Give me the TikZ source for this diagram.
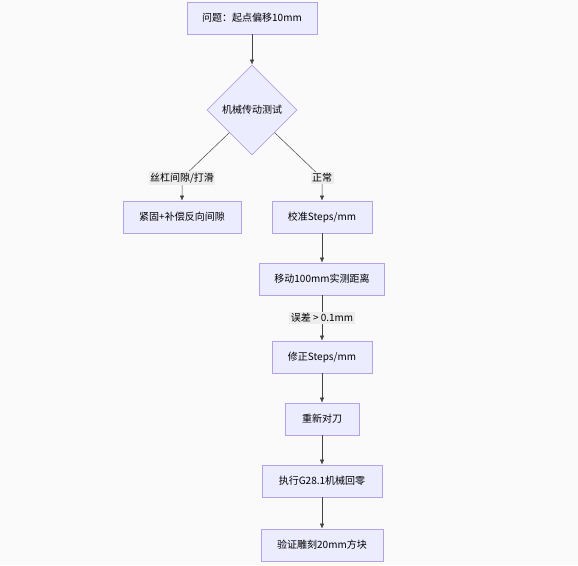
\documentclass[tikz,border=0pt]{standalone}
\usepackage{fontspec}
\setmainfont{Noto Sans CJK SC}
\usetikzlibrary{arrows.meta,positioning,shapes.geometric}
\definecolor{boxfill}{HTML}{ECECFF}
\definecolor{boxline}{HTML}{B4A2E6}
\definecolor{flowline}{HTML}{444444}
\definecolor{lblfill}{HTML}{EDEDED}
\definecolor{pagebg}{HTML}{FAFAFA}

\begin{document}
\begin{tikzpicture}[x=1pt, y=-1pt,
  box/.style={draw=boxline, fill=boxfill, line width=0.8pt, minimum height=32pt, inner sep=0pt, font=\fontsize{10}{12}\selectfont},
  check/.style={diamond, draw=boxline, fill=boxfill, line width=0.8pt, minimum size=90pt, inner sep=0pt, font=\fontsize{10}{12}\selectfont},
  lbl/.style={fill=lblfill, inner sep=1.5pt, font=\fontsize{10}{12}\selectfont},
  flow/.style={-{Latex[length=5pt, width=4.5pt]}, draw=flowline, line width=0.5pt}]
\useasboundingbox[fill=pagebg] (0,0) rectangle (578,565);
\node[box, minimum width=130pt] (prob) at (252,18) {问题：起点偏移10mm};
\node[check] (dia) at (252,110) {机械传动测试};
\node[box, minimum width=118pt] (fixL) at (182,217) {紧固+补偿反向间隙};
\node[box, minimum width=100pt] (cal) at (322,217) {校准Steps/mm};
\node[box, minimum width=125pt] (meas) at (322,279) {移动100mm实测距离};
\node[box, minimum width=100pt] (corr) at (322,357) {修正Steps/mm};
\node[box, minimum width=74pt] (tool) at (322,419) {重新对刀};
\node[box, minimum width=120pt] (home) at (322,481) {执行G28.1机械回零};
\node[box, minimum width=122pt] (test) at (322,545) {验证雕刻20mm方块};
\coordinate (jL) at (182,178);
\coordinate (jR) at (322,178);
\coordinate (jE) at (322,318);
% edges
\draw[flow] (prob) -- (dia);
\draw[flow] (dia.south west) -- (jL) -- (fixL);
\draw[flow] (dia.south east) -- (jR) -- (cal);
\draw[flow] (cal) -- (meas);
\draw[flow] (meas) -- (corr);
\draw[flow] (corr) -- (tool);
\draw[flow] (tool) -- (home);
\draw[flow] (home) -- (test);
% labels
\node[lbl] at (jL) {丝杠间隙/打滑};
\node[lbl] at (jR) {正常};
\node[lbl] at (jE) {误差 > 0.1mm};
\end{tikzpicture}
\end{document}
